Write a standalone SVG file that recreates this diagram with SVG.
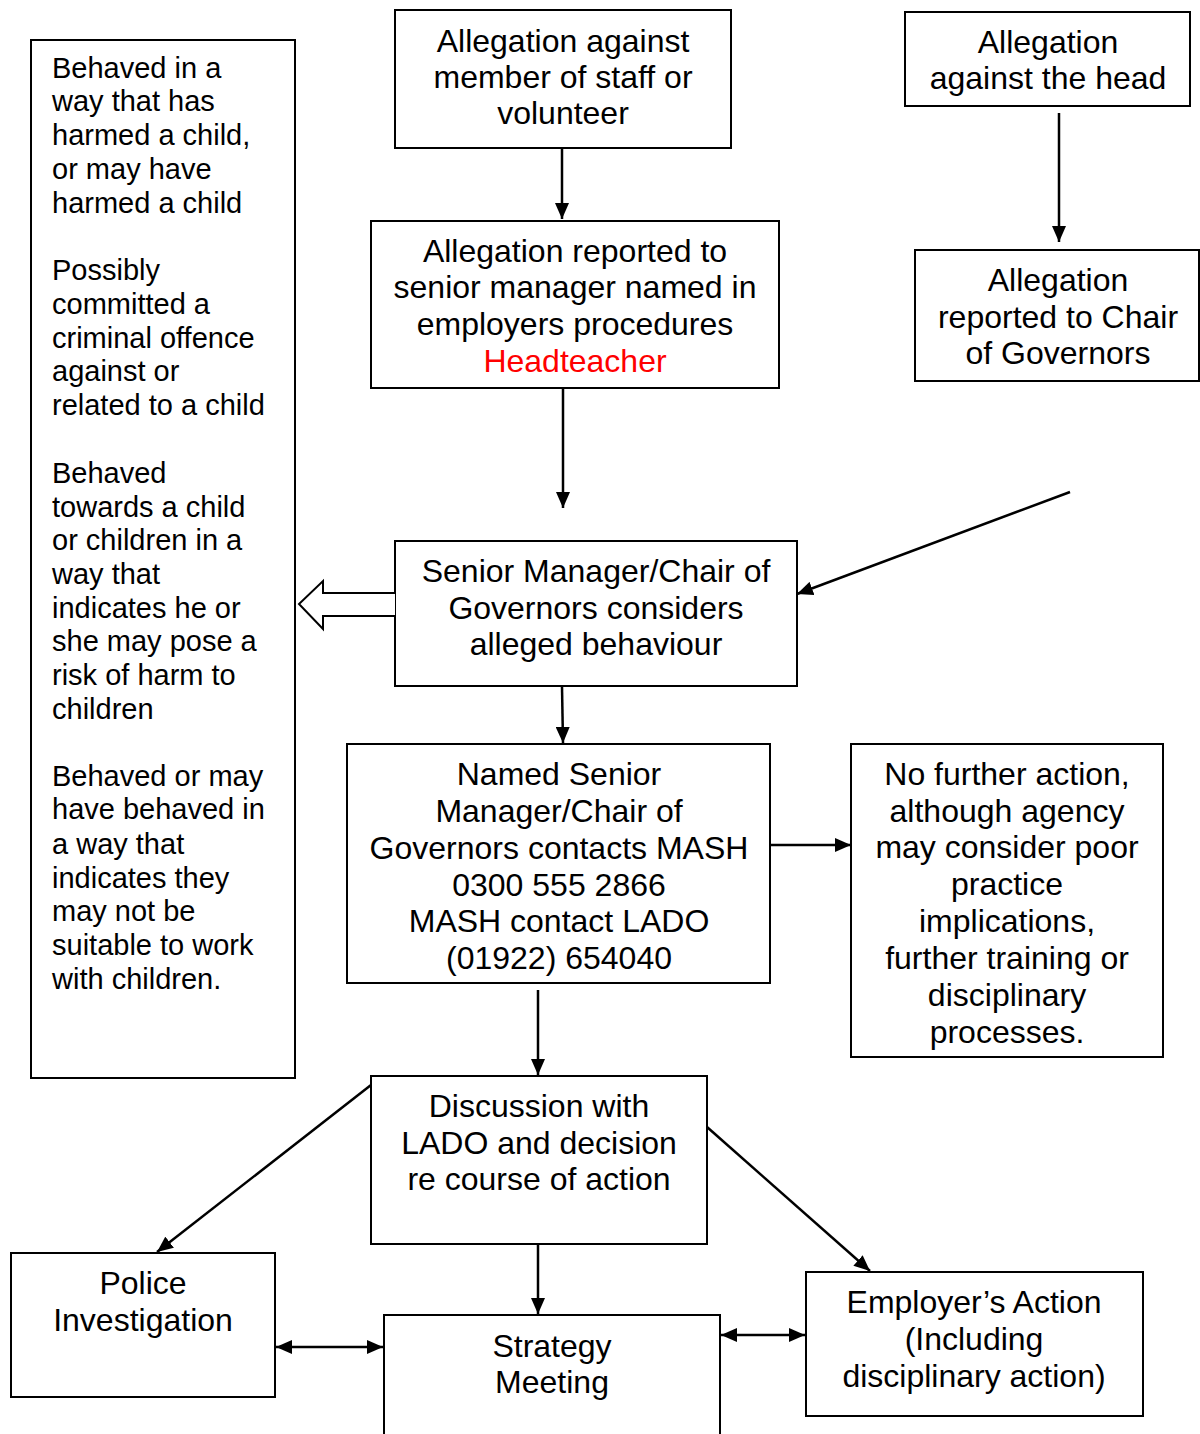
<svg xmlns="http://www.w3.org/2000/svg" width="1200" height="1434" viewBox="0 0 1200 1434">
<style>
rect.box{fill:#fff;stroke:#000;stroke-width:2}
text{font-family:"Liberation Sans",Arial,sans-serif;font-size:32px;fill:#000}
text.c{text-anchor:middle}
text.s{font-size:29px}
.red{fill:#ff0000}
.conn line{stroke:#000;stroke-width:2.5}
</style>
<defs>
<marker id="ah" viewBox="0 0 16 14" refX="16" refY="7" markerWidth="16" markerHeight="14" markerUnits="userSpaceOnUse" orient="auto-start-reverse">
<path d="M0,0 L16,7 L0,14 Z" fill="#000"/>
</marker>
</defs>
<rect width="1200" height="1434" fill="#fff"/>

<g id="left-criteria">
<rect class="box" x="31" y="40" width="264" height="1038"/>
<text class="s" x="52"><tspan x="52" y="78">Behaved in a</tspan><tspan x="52" y="111">way that has</tspan><tspan x="52" y="145">harmed a child,</tspan><tspan x="52" y="179">or may have</tspan><tspan x="52" y="213">harmed a child</tspan><tspan x="52" y="280">Possibly</tspan><tspan x="52" y="314">committed a</tspan><tspan x="52" y="348">criminal offence</tspan><tspan x="52" y="381">against or</tspan><tspan x="52" y="415">related to a child</tspan><tspan x="52" y="483">Behaved</tspan><tspan x="52" y="517">towards a child</tspan><tspan x="52" y="550">or children in a</tspan><tspan x="52" y="584">way that</tspan><tspan x="52" y="618">indicates he or</tspan><tspan x="52" y="651">she may pose a</tspan><tspan x="52" y="685">risk of harm to</tspan><tspan x="52" y="719">children</tspan><tspan x="52" y="786">Behaved or may</tspan><tspan x="52" y="819">have behaved in</tspan><tspan x="52" y="854">a way that</tspan><tspan x="52" y="888">indicates they</tspan><tspan x="52" y="921">may not be</tspan><tspan x="52" y="955">suitable to work</tspan><tspan x="52" y="989">with children.</tspan></text>
</g>

<g id="alleg-staff">
<rect class="box" x="395" y="10" width="336" height="138"/>
<text class="c"><tspan x="563" y="52">Allegation against</tspan><tspan x="563" y="88">member of staff or</tspan><tspan x="563" y="124">volunteer</tspan></text>
</g>

<g id="alleg-head">
<rect class="box" x="905" y="12" width="285" height="94"/>
<text class="c"><tspan x="1048" y="53">Allegation</tspan><tspan x="1048" y="89">against the head</tspan></text>
</g>

<g id="reported-senior">
<rect class="box" x="371" y="221" width="408" height="167"/>
<text class="c"><tspan x="575" y="262">Allegation reported to</tspan><tspan x="575" y="298">senior manager named in</tspan><tspan x="575" y="335">employers procedures</tspan><tspan x="575" y="372" class="red">Headteacher</tspan></text>
</g>

<g id="reported-chair">
<rect class="box" x="915" y="250" width="284" height="131"/>
<text class="c"><tspan x="1058" y="291">Allegation</tspan><tspan x="1058" y="328">reported to Chair</tspan><tspan x="1058" y="364">of Governors</tspan></text>
</g>

<g id="considers">
<rect class="box" x="395" y="541" width="402" height="145"/>
<text class="c"><tspan x="596" y="582">Senior Manager/Chair of</tspan><tspan x="596" y="619">Governors considers</tspan><tspan x="596" y="655">alleged behaviour</tspan></text>
</g>

<g id="contacts-mash">
<rect class="box" x="347" y="744" width="423" height="239"/>
<text class="c"><tspan x="559" y="785">Named Senior</tspan><tspan x="559" y="822">Manager/Chair of</tspan><tspan x="559" y="859">Governors contacts MASH</tspan><tspan x="559" y="896">0300 555 2866</tspan><tspan x="559" y="932">MASH contact LADO</tspan><tspan x="559" y="969">(01922) 654040</tspan></text>
</g>

<g id="no-further">
<rect class="box" x="851" y="744" width="312" height="313"/>
<text class="c"><tspan x="1007" y="785">No further action,</tspan><tspan x="1007" y="822">although agency</tspan><tspan x="1007" y="858">may consider poor</tspan><tspan x="1007" y="895">practice</tspan><tspan x="1007" y="932">implications,</tspan><tspan x="1007" y="969">further training or</tspan><tspan x="1007" y="1006">disciplinary</tspan><tspan x="1007" y="1043">processes.</tspan></text>
</g>

<g id="discussion">
<rect class="box" x="371" y="1076" width="336" height="168"/>
<text class="c"><tspan x="539" y="1117">Discussion with</tspan><tspan x="539" y="1154">LADO and decision</tspan><tspan x="539" y="1190">re course of action</tspan></text>
</g>

<g id="police">
<rect class="box" x="11" y="1253" width="264" height="144"/>
<text class="c"><tspan x="143" y="1294">Police</tspan><tspan x="143" y="1331">Investigation</tspan></text>
</g>

<g id="strategy">
<rect class="box" x="384" y="1315" width="336" height="130"/>
<text class="c"><tspan x="552" y="1357">Strategy</tspan><tspan x="552" y="1393">Meeting</tspan></text>
</g>

<g id="employer">
<rect class="box" x="806" y="1272" width="337" height="144"/>
<text class="c"><tspan x="974" y="1313">Employer’s Action</tspan><tspan x="974" y="1350">(Including</tspan><tspan x="974" y="1387">disciplinary action)</tspan></text>
</g>

<g id="connectors" class="conn">
<line x1="562" y1="148" x2="562" y2="219" marker-end="url(#ah)"/>
<line x1="1059" y1="113" x2="1059" y2="242" marker-end="url(#ah)"/>
<line x1="563" y1="389" x2="563" y2="508" marker-end="url(#ah)"/>
<line x1="1070" y1="492" x2="797" y2="594" marker-end="url(#ah)"/>
<line x1="562" y1="687" x2="563" y2="743" marker-end="url(#ah)"/>
<line x1="770" y1="845" x2="851" y2="845" marker-end="url(#ah)"/>
<line x1="538" y1="990" x2="538" y2="1075" marker-end="url(#ah)"/>
<line x1="371" y1="1085" x2="157" y2="1252" marker-end="url(#ah)"/>
<line x1="707" y1="1127" x2="870" y2="1271" marker-end="url(#ah)"/>
<line x1="538" y1="1245" x2="538" y2="1314" marker-end="url(#ah)"/>
<line x1="276" y1="1347" x2="383" y2="1347" marker-start="url(#ah)" marker-end="url(#ah)"/>
<line x1="721" y1="1335" x2="805" y2="1335" marker-start="url(#ah)" marker-end="url(#ah)"/>
<path d="M395,593 L323,593 L323,581 L299,604 L323,629 L323,616 L395,616" fill="#fff" stroke="#000" stroke-width="2"/>
</g>
</svg>
